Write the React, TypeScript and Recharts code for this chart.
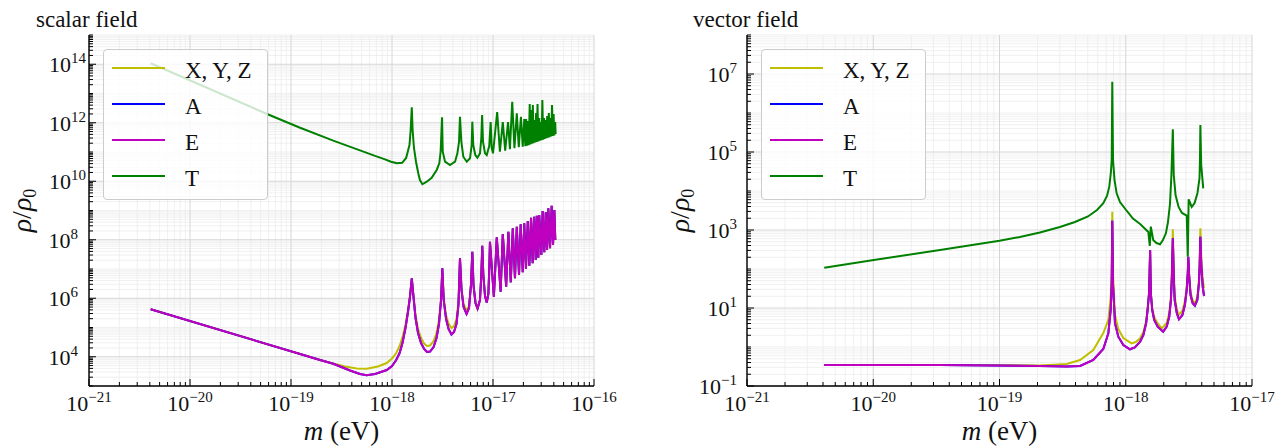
import { CartesianGrid, Legend, Line, LineChart, XAxis, YAxis } from "recharts";

type Pt = [number, number]; // [m (eV), rho / rho0]

const FONT = '"Liberation Serif", "DejaVu Serif", serif';

const seriesNames = ["X, Y, Z", "A", "E", "T"];
const seriesColors = ["#bfbf00", "#0000ff", "#bf00bf", "#008000"];

// ---------- scalar field (left panel) ----------
const scalarT: Pt[] = [
  [4.08e-21, 1.08e14], [5.87e-20, 1.95e12], [1.23e-19, 6.76e11], [2.62e-19, 2.45e11],
  [4.82e-19, 1.14e11], [6.79e-19, 7.36e10], [8.53e-19, 5.62e10], [9.77e-19, 4.66e10],
  [1.12e-18, 4.1e10], [1.26e-18, 4.28e10],
  [1.38e-18, 6.24e10], [1.49e-18, 1.73e11], [1.53e-18, 5.65e11], [1.57e-18, 3.37e12],
  [1.6e-18, 5.65e11], [1.65e-18, 1.37e11], [1.73e-18, 4.55e10], [1.82e-18, 1.87e10],
  [1.89e-18, 1.1e10], [2.0e-18, 7.9e9], [2.21e-18, 9.66e9], [2.47e-18, 1.32e10],
  [2.77e-18, 2.43e10], [2.94e-18, 4.1e10], [3.03e-18, 1.02e11], [3.13e-18, 1.53e12],
  [3.18e-18, 1.02e11], [3.35e-18, 4.66e10], [3.75e-18, 3.6e10], [4.21e-18, 4.66e10],
  [4.44e-18, 9.0e10], [4.61e-18, 2.25e11], [4.71e-18, 1.61e12], [4.86e-18, 2.25e11],
  [5.08e-18, 6.9e10], [5.5e-18, 4.66e10], [5.92e-18, 6.1e10], [6.15e-18, 1.73e11],
  [6.24e-18, 1.09e12], [6.38e-18, 1.73e11], [6.68e-18, 7.9e10], [7.0e-18, 6.38e10],
  [7.43e-18, 9.0e10], [7.66e-18, 2.94e11], [7.8e-18, 1.84e12], [7.96e-18, 2.25e11],
  [8.34e-18, 9.0e10], [8.67e-18, 7.9e10], [9.18e-18, 1.6e11], [9.48e-18, 1.06e12],
  [9.71e-18, 1.37e11], [1.0e-17, 9.0e10], [1.1e-17, 2.33e12],
  [1.17e-17, 1.02e11], [1.25e-17, 1.06e12], [1.32e-17, 1.11e11],
  [1.41e-17, 1.06e12], [1.47e-17, 1.24e11], [1.55e-17, 5.2e12], [1.63e-17, 1.34e11],
  [1.72e-17, 2.1e12], [1.8e-17, 1.45e11], [1.89e-17, 1.61e12], [1.97e-17, 1.52e11],
  [2.04e-17, 1.34e12], [2.09e-17, 1.57e11], [2.13e-17, 1.34e12], [2.17e-17, 1.64e11],
  [2.21e-17, 1.15e12], [2.26e-17, 1.72e11], [2.31e-17, 4.38e12], [2.35e-17, 1.82e11],
  [2.39e-17, 2.73e12], [2.43e-17, 1.91e11], [2.48e-17, 4.05e12], [2.52e-17, 2.0e11],
  [2.57e-17, 1.24e12], [2.62e-17, 2.1e11], [2.67e-17, 2.15e12], [2.71e-17, 2.2e11],
  [2.76e-17, 4.38e12], [2.81e-17, 2.3e11], [2.87e-17, 1.45e12], [2.92e-17, 2.42e11],
  [2.97e-17, 1.06e12], [3.03e-17, 2.53e11], [3.08e-17, 6.0e12], [3.14e-17, 2.65e11],
  [3.2e-17, 1.45e12], [3.26e-17, 2.8e11], [3.32e-17, 1.24e12], [3.38e-17, 2.94e11],
  [3.44e-17, 1.7e12], [3.51e-17, 3.08e11], [3.57e-17, 2.15e12], [3.63e-17, 3.23e11],
  [3.7e-17, 1.45e12], [3.77e-17, 3.39e11], [3.84e-17, 4.05e12], [3.91e-17, 3.55e11],
  [3.98e-17, 1.99e12], [4.05e-17, 3.72e11], [4.13e-17, 1.06e12], [4.17e-17, 4.12e11],
];

const scalarEHead: Pt[] = [
  [4.08e-21, 4.19e5], [1.23e-19, 1.24e4], [1.94e-19, 7.74e3], [2.62e-19, 5.74e3],
  [3.84e-19, 3.39e3], [4.82e-19, 2.57e3], [5.61e-19, 2.32e3], [6.79e-19, 2.57e3],
  [8.87e-19, 3.52e3], [1.0e-18, 4.83e3], [1.1e-18, 7.74e3], [1.19e-18, 1.34e4],
  [1.27e-18, 2.95e4], [1.36e-18, 9.6e4], [1.44e-18, 3.39e5], [1.51e-18, 1.19e6],
  [1.57e-18, 4.81e6], [1.63e-18, 1.19e6], [1.71e-18, 2.11e5], [1.81e-18, 6.49e4],
  [1.94e-18, 2.95e4], [2.08e-18, 1.84e4], [2.22e-18, 1.45e4], [2.38e-18, 1.51e4],
  [2.58e-18, 2.15e4], [2.76e-18, 4.38e4], [2.92e-18, 1.32e5], [3.06e-18, 8.71e5],
  [3.15e-18, 1.06e7], [3.25e-18, 8.71e5], [3.43e-18, 1.95e5], [3.63e-18, 8.9e4],
  [3.88e-18, 5.77e4], [4.11e-18, 7.0e4], [4.35e-18, 1.32e5], [4.55e-18, 5.87e5],
  [4.71e-18, 2.32e7], [4.88e-18, 1.91e6], [5.11e-18, 5.02e5], [5.47e-18, 2.9e5],
  [5.79e-18, 4.64e5],
];

const scalarXYZHead: Pt[] = [
  [4.08e-21, 4.19e5], [1.23e-19, 1.24e4], [1.94e-19, 7.74e3], [2.62e-19, 5.88e3],
  [3.43e-19, 4.64e3], [4.48e-19, 3.96e3], [5.61e-19, 3.87e3], [7.26e-19, 4.64e3],
  [8.87e-19, 6.11e3], [1.0e-18, 8.71e3], [1.1e-18, 1.34e4], [1.19e-18, 2.33e4],
  [1.27e-18, 4.73e4], [1.36e-18, 1.22e5], [1.44e-18, 3.96e5], [1.51e-18, 1.29e6],
  [1.57e-18, 4.81e6], [1.63e-18, 1.29e6], [1.71e-18, 2.67e5], [1.81e-18, 8.9e4],
  [1.94e-18, 4.38e4], [2.08e-18, 2.84e4], [2.22e-18, 2.33e4], [2.38e-18, 2.43e4],
  [2.58e-18, 3.45e4], [2.76e-18, 6.49e4], [2.92e-18, 1.8e5], [3.06e-18, 1.02e6],
  [3.15e-18, 1.06e7], [3.25e-18, 1.02e6], [3.43e-18, 2.67e5], [3.63e-18, 1.37e5],
  [3.88e-18, 9.6e4], [4.11e-18, 1.12e5], [4.35e-18, 1.95e5], [4.55e-18, 7.45e5],
  [4.71e-18, 2.32e7], [4.88e-18, 2.07e6], [5.11e-18, 6.35e5], [5.47e-18, 3.81e5],
  [5.79e-18, 5.43e5],
];

// above ~6e-18 eV the X,Y,Z and E curves lie on top of each other
const scalarTail: Pt[] = [
  [6.05e-18, 2.84e6], [6.24e-18, 3.9e7], [6.41e-18, 2.84e6], [6.71e-18, 6.89e5],
  [7.03e-18, 4.47e5], [7.43e-18, 8.71e5], [7.66e-18, 6.24e6], [7.83e-18, 6.27e7],
  [8.02e-18, 6.24e6], [8.34e-18, 1.19e6], [8.67e-18, 7.16e5], [9.0e-18, 1.4e6],
  [9.18e-18, 9.25e6], [9.33e-18, 8.57e7], [1.02e-17, 1.1e6], [1.09e-17, 1.21e8],
  [1.19e-17, 1.67e6], [1.25e-17, 1.57e8], [1.35e-17, 2.48e6], [1.42e-17, 1.88e8],
  [1.5e-17, 3.5e6], [1.57e-17, 2.47e8], [1.65e-17, 4.81e6], [1.72e-17, 2.79e8],
  [1.81e-17, 6.24e6], [1.88e-17, 3.37e8], [1.97e-17, 7.71e6], [2.04e-17, 3.65e8],
  [2.12e-17, 1.0e7], [2.21e-17, 4.38e8], [2.29e-17, 1.3e7], [2.38e-17, 5.67e8],
  [2.47e-17, 1.57e7], [2.55e-17, 6.14e8], [2.65e-17, 2.03e7], [2.71e-17, 6.64e8],
  [2.81e-17, 2.43e7], [2.87e-17, 7.02e8], [3.01e-17, 3.01e7], [3.1e-17, 9.62e8],
  [3.22e-17, 3.72e7], [3.33e-17, 8.67e8], [3.43e-17, 4.47e7], [3.53e-17, 1.19e9],
  [3.67e-17, 5.1e7], [3.81e-17, 1.46e9], [3.93e-17, 6.62e7], [4.05e-17, 1.04e9],
  [4.14e-17, 9.8e7],
];

const scalarE = [...scalarEHead, ...scalarTail];
const scalarXYZ = [...scalarXYZHead, ...scalarTail];
const scalarA = scalarE; // hidden under E

// ---------- vector field (right panel) ----------
const vectorT: Pt[] = [
  [4.09e-21, 108], [1.01e-20, 170], [3.38e-20, 307], [1.0e-19, 532], [1.45e-19, 662],
  [2.09e-19, 863], [3.01e-19, 1.19e3], [3.96e-19, 1.6e3], [5.02e-19, 2.22e3], [5.92e-19, 3.26e3],
  [6.64e-19, 4.84e3], [7.1e-19, 7.45e3], [7.41e-19, 1.29e4], [7.63e-19, 3.07e4],
  [7.74e-19, 6.24e4], [7.82e-19, 6.35e6], [7.93e-19, 6.24e4], [8.15e-19, 1.91e4],
  [8.47e-19, 8.73e3], [9.0e-19, 5.22e3], [1.02e-18, 3.07e3], [1.14e-18, 1.97e3],
  [1.3e-18, 1.43e3], [1.51e-18, 889], [1.55e-18, 389], [1.58e-18, 1.22e3], [1.65e-18, 554],
  [1.75e-18, 464], [1.87e-18, 430], [1.97e-18, 554], [2.08e-18, 822], [2.16e-18, 1.6e3],
  [2.24e-18, 4.64e3], [2.3e-18, 2.57e4], [2.36e-18, 3.82e5], [2.4e-18, 2.57e4],
  [2.48e-18, 7.89e3], [2.62e-18, 3.89e3], [2.79e-18, 2.73e3], [3.04e-18, 2.35e3],
  [3.1e-18, 207], [3.15e-18, 6.12e3], [3.33e-18, 3.89e3], [3.51e-18, 4.92e3],
  [3.7e-18, 8.89e3], [3.84e-18, 2.15e4], [3.87e-18, 6.24e4], [3.9e-18, 4.92e5],
  [3.96e-18, 4.64e4], [4.11e-18, 1.17e4],
];

const vectorE: Pt[] = [
  [4.09e-21, 0.345], [3.38e-20, 0.345], [2.09e-19, 0.326], [3.4e-19, 0.315],
  [4.35e-19, 0.326], [5.53e-19, 0.464], [6.64e-19, 0.89], [7.28e-19, 2.24], [7.6e-19, 8.9],
  [7.74e-19, 38.9], [7.82e-19, 1.73e3], [7.93e-19, 38.9], [8.22e-19, 4.06], [8.73e-19, 1.84],
  [9.57e-19, 1.12], [1.08e-18, 0.873], [1.18e-18, 0.98], [1.3e-18, 1.37], [1.38e-18, 2.03],
  [1.45e-18, 4.06], [1.49e-18, 8.9], [1.53e-18, 23.8], [1.56e-18, 307], [1.58e-18, 23.8],
  [1.62e-18, 8.9], [1.68e-18, 4.92], [1.79e-18, 3.32], [1.98e-18, 2.47], [2.11e-18, 3.32],
  [2.21e-18, 5.98], [2.28e-18, 16.0], [2.32e-18, 63.5], [2.36e-18, 612], [2.4e-18, 63.5],
  [2.44e-18, 16.0], [2.54e-18, 7.31], [2.64e-18, 5.13], [2.81e-18, 6.62], [2.94e-18, 11.9],
  [3.04e-18, 28.9], [3.1e-18, 77.6], [3.13e-18, 207], [3.18e-18, 63.5], [3.26e-18, 21.5],
  [3.39e-18, 13.2], [3.53e-18, 11.5], [3.69e-18, 16.0], [3.8e-18, 43], [3.85e-18, 115],
  [3.9e-18, 673], [3.97e-18, 115], [4.07e-18, 35.2], [4.17e-18, 20.3],
];

const vectorXYZ: Pt[] = [
  [4.09e-21, 0.345], [3.38e-20, 0.345], [2.09e-19, 0.336], [3.4e-19, 0.366],
  [4.35e-19, 0.464], [5.53e-19, 0.837], [6.64e-19, 2.28], [7.28e-19, 4.92], [7.6e-19, 19.1],
  [7.74e-19, 70.1], [7.82e-19, 2.94e3], [7.93e-19, 70.1], [8.22e-19, 6.62], [8.73e-19, 2.9],
  [9.57e-19, 1.7], [1.11e-18, 1.24], [1.2e-18, 1.34], [1.3e-18, 1.67], [1.38e-18, 2.43],
  [1.45e-18, 4.64], [1.49e-18, 10], [1.53e-18, 25.7], [1.56e-18, 273], [1.58e-18, 25.7],
  [1.62e-18, 10], [1.68e-18, 5.87], [1.79e-18, 4.0], [1.93e-18, 3.01], [2.11e-18, 4.12],
  [2.21e-18, 7.45], [2.28e-18, 20.3], [2.32e-18, 94], [2.36e-18, 1.04e3], [2.4e-18, 94],
  [2.44e-18, 20.3], [2.54e-18, 9.42], [2.61e-18, 6.62], [2.81e-18, 8.38], [2.94e-18, 15.1],
  [3.04e-18, 34.5], [3.1e-18, 83.8], [3.13e-18, 192], [3.18e-18, 70.1], [3.26e-18, 25.7],
  [3.39e-18, 15.6], [3.53e-18, 13.2], [3.69e-18, 19.1], [3.8e-18, 55.5], [3.85e-18, 170],
  [3.9e-18, 1.11e3], [3.97e-18, 170], [4.07e-18, 55.5], [4.17e-18, 32],
];

const vectorA = vectorE; // hidden under E

// ---------- axes ----------
const scalarMassLabels = [1e-21, 1e-20, 1e-19, 1e-18, 1e-17, 1e-16];
const scalarRhoLabels = [1e4, 1e6, 1e8, 1e10, 1e12, 1e14];
const vectorMassLabels = [1e-21, 1e-20, 1e-19, 1e-18, 1e-17];
const vectorRhoLabels = [1e-1, 1e1, 1e3, 1e5, 1e7];

// 1..9 x 10^d tick positions between two decades
const logSteps = (lo: number, hi: number) => {
  const out: number[] = [];
  for (let d = Math.round(Math.log10(lo)); d < Math.round(Math.log10(hi)); d++) {
    for (let k = 1; k < 10; k++) out.push(k * Math.pow(10, d));
  }
  out.push(hi);
  return out;
};

const isIn = (v: number, list: number[]) =>
  list.some((t) => Math.abs(Math.log10(t) - Math.log10(v)) < 1e-6);

const AxisTick = (props: any) => {
  const { x, y, payload, side, labels, pad = 0, padShort = 0 } = props;
  const v = payload.value;
  const major = isIn(v, labels);
  const len = major ? 7 : 4;
  const exp = String(Math.round(Math.log10(v))).replace("-", "\u2212");
  const text = (tx: number, ty: number, anchor: string) => (
    <text x={tx} y={ty} textAnchor={anchor} fontFamily={FONT} fontSize={22} fill="#111">
      10
      <tspan dy={-9} fontSize={15}>{exp}</tspan>
    </text>
  );
  if (side === "bottom") {
    return (
      <g>
        <line x1={x} y1={y} x2={x} y2={y - len} stroke="#000" strokeWidth={1} />
        {major && text(x, y + 25, "middle")}
      </g>
    );
  }
  if (side === "left") {
    const endX = x - pad - (exp.length === 1 ? padShort : 0);
    return (
      <g>
        <line x1={x} y1={y} x2={x + len} y2={y} stroke="#000" strokeWidth={1} />
        {major && text(endX, y + 8, "end")}
      </g>
    );
  }
  return <line x1={x} y1={y} x2={x - len} y2={y} stroke="#000" strokeWidth={1} />;
};

const MassLabel = ({ viewBox }: any) => (
  <text x={viewBox.x + viewBox.width / 2} y={viewBox.y + 54} textAnchor="middle" fontFamily={FONT} fontSize={27} fill="#111">
    <tspan fontStyle="italic">m</tspan>
    <tspan>{" (eV)"}</tspan>
  </text>
);

const RhoLabel = ({ viewBox }: any) => {
  const cx = viewBox.x + viewBox.width - 58;
  const cy = viewBox.y + viewBox.height / 2;
  return (
    <text x={cx} y={cy} transform={`rotate(-90 ${cx} ${cy})`} textAnchor="middle" fontFamily={FONT} fontSize={28} fill="#111">
      <tspan fontStyle="italic">ρ</tspan>
      <tspan>/</tspan>
      <tspan fontStyle="italic">ρ</tspan>
      <tspan fontSize={18} dy={5}>0</tspan>
    </text>
  );
};

const LegendBox = () => (
  <div
    style={{
      boxSizing: "border-box",
      width: 165,
      height: 151,
      border: "1px solid #cccccc",
      borderRadius: 4,
      background: "rgba(255,255,255,0.8)",
      paddingLeft: 8,
      fontFamily: FONT,
      fontSize: 23,
      color: "#111",
    }}
  >
    {seriesNames.map((n, i) => (
      <div key={n} style={{ display: "flex", alignItems: "center", height: 36 }}>
        <div style={{ width: 53, height: 2, background: seriesColors[i], marginRight: 20 }} />
        <span style={{ position: "relative", top: 3 }}>{n}</span>
      </div>
    ))}
  </div>
);

type PanelProps = {
  left: number;
  width: number;
  yAxisWidth: number;
  marginRight: number;
  legendLeft: number;
  series: Pt[][];
  xDomain: [number, number];
  yDomain: [number, number];
  xLabels: number[];
  yLabels: number[];
  pad: number;
  padShort: number;
};

const axisLine = { stroke: "#000", strokeWidth: 1.4 };

const Panel = (p: PanelProps) => {
  const xTicks = logSteps(p.xDomain[0], p.xDomain[1]);
  const yTicks = logSteps(p.yDomain[0], p.yDomain[1]);
  const xMinor = xTicks.filter((v) => !isIn(v, p.xLabels));
  const yMinor = yTicks.filter((v) => !isIn(v, p.yLabels));
  return (
    <div style={{ position: "absolute", left: p.left, top: 0 }}>
      <LineChart width={p.width} height={446} margin={{ top: 35, right: p.marginRight, bottom: 0, left: 0 }}>
        <CartesianGrid stroke="#ececec" strokeWidth={0.8} horizontalValues={yMinor} verticalValues={xMinor} />
        <CartesianGrid stroke="#d6d6d6" strokeWidth={1} horizontalValues={p.yLabels} verticalValues={p.xLabels} />
        <XAxis
          dataKey="m"
          type="number"
          scale="log"
          domain={p.xDomain}
          allowDataOverflow
          ticks={xTicks}
          interval={0}
          tickSize={0}
          tickMargin={0}
          tickLine={false}
          height={60}
          axisLine={axisLine}
          tick={(t: any) => <AxisTick {...t} side="bottom" labels={p.xLabels} />}
          label={(l: any) => <MassLabel {...l} />}
        />
        <XAxis
          xAxisId="top"
          orientation="top"
          type="number"
          scale="log"
          domain={p.xDomain}
          allowDataOverflow
          height={0}
          tick={false}
          tickLine={false}
          axisLine={axisLine}
        />
        <YAxis
          type="number"
          scale="log"
          domain={p.yDomain}
          allowDataOverflow
          ticks={yTicks}
          interval={0}
          tickSize={0}
          tickMargin={0}
          tickLine={false}
          width={p.yAxisWidth}
          axisLine={axisLine}
          tick={(t: any) => <AxisTick {...t} side="left" labels={p.yLabels} pad={p.pad} padShort={p.padShort} />}
          label={(l: any) => <RhoLabel {...l} />}
        />
        <YAxis
          yAxisId="right"
          orientation="right"
          type="number"
          scale="log"
          domain={p.yDomain}
          allowDataOverflow
          ticks={yTicks}
          interval={0}
          tickSize={0}
          tickMargin={0}
          tickLine={false}
          width={0}
          axisLine={axisLine}
          tick={(t: any) => <AxisTick {...t} side="right" labels={p.yLabels} />}
        />
        {p.series.map((pts, i) => (
          <Line
            key={seriesNames[i]}
            name={seriesNames[i]}
            data={pts.map(([m, rho]) => ({ m, rho }))}
            dataKey="rho"
            type="linear"
            stroke={seriesColors[i]}
            strokeWidth={2}
            dot={false}
            activeDot={false}
            isAnimationActive={false}
          />
        ))}
        <Legend
          layout="vertical"
          align="center"
          verticalAlign="middle"
          content={() => <LegendBox />}
          wrapperStyle={{ position: "absolute", left: p.legendLeft, top: 49, width: 165, height: 151 }}
        />
      </LineChart>
    </div>
  );
};

export default function App() {
  return (
    <div style={{ position: "absolute", left: 0, top: 0, width: 1282, height: 446, background: "#fff" }}>
      <svg width={1282} height={446} style={{ position: "absolute", left: 0, top: 0 }}>
        <text x={36} y={27} fontFamily={FONT} fontSize={23} fill="#111">scalar field</text>
        <text x={693} y={27} fontFamily={FONT} fontSize={23} fill="#111">vector field</text>
      </svg>
      <Panel
        left={0}
        width={641}
        yAxisWidth={89}
        marginRight={47}
        legendLeft={103}
        series={[scalarXYZ, scalarA, scalarE, scalarT]}
        xDomain={[1e-21, 1e-16]}
        yDomain={[1e3, 1e15]}
        xLabels={scalarMassLabels}
        yLabels={scalarRhoLabels}
        pad={3}
        padShort={8}
      />
      <Panel
        left={641}
        width={641}
        yAxisWidth={106}
        marginRight={30}
        legendLeft={120}
        series={[vectorXYZ, vectorA, vectorE, vectorT]}
        xDomain={[1e-21, 1e-17]}
        yDomain={[1e-1, 1e8]}
        xLabels={vectorMassLabels}
        yLabels={vectorRhoLabels}
        pad={10}
        padShort={0}
      />
    </div>
  );
}
